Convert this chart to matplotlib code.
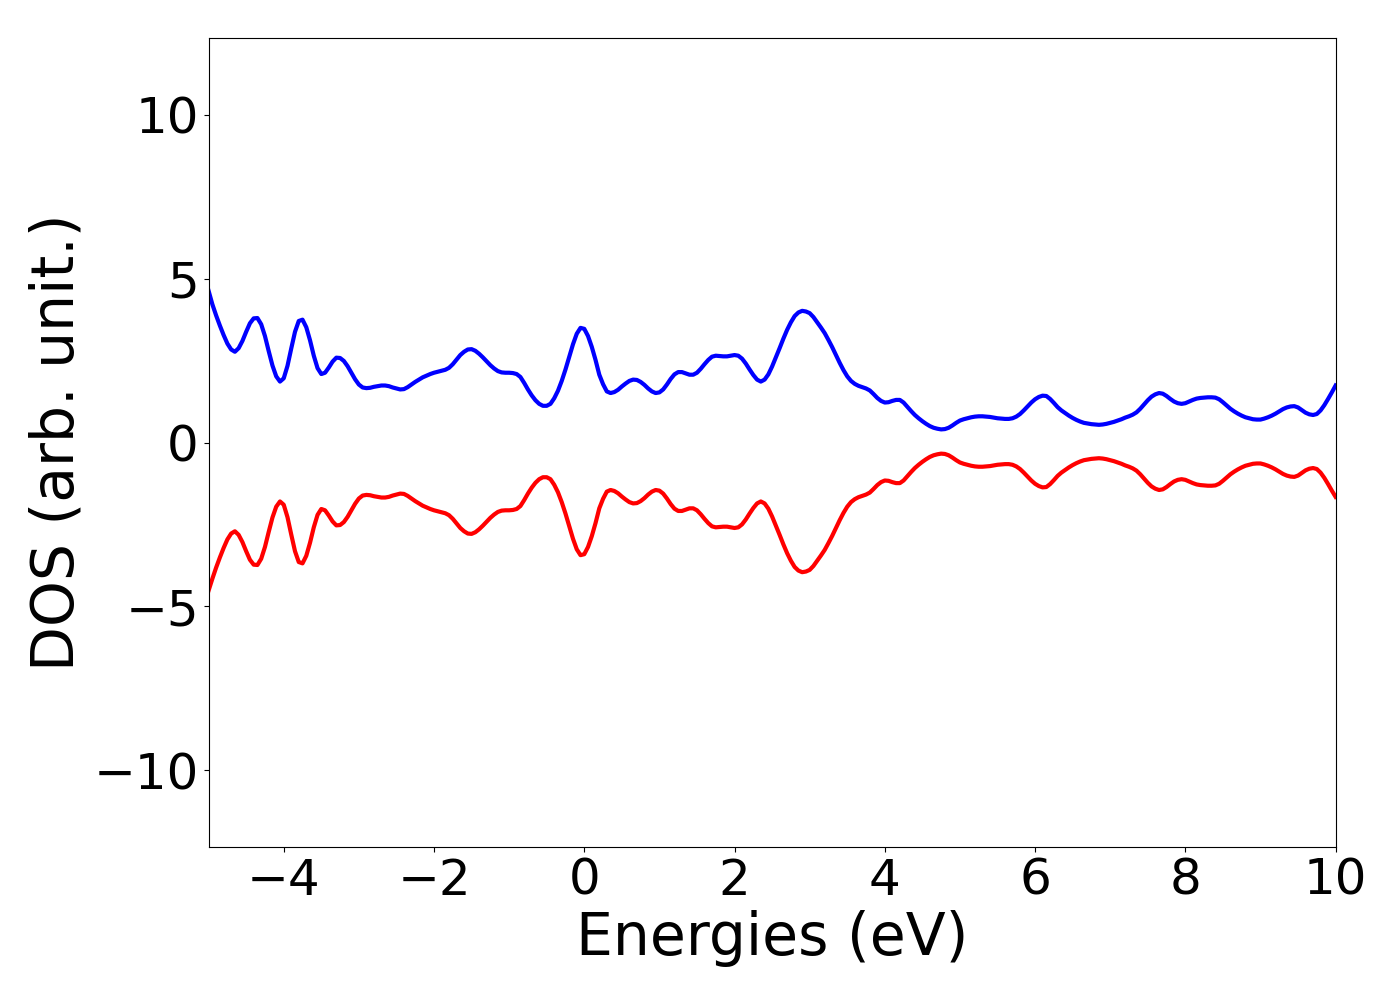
import numpy as np
import matplotlib
matplotlib.use("Agg")
import matplotlib.pyplot as plt

# energy grid, 0.05 eV steps from -5 to 10
energies = np.linspace(-5.0, 10.0, 301)

# spin up DOS
dos_up = [
    4.63, 4.22, 3.88, 3.57, 3.28, 3.02, 2.84, 2.77, 2.88, 3.10,
    3.38, 3.64, 3.79, 3.80, 3.61, 3.25, 2.79, 2.35, 2.02, 1.86,
    1.96, 2.34, 2.87, 3.38, 3.71, 3.75, 3.52, 3.12, 2.65, 2.27,
    2.09, 2.13, 2.29, 2.47, 2.59, 2.58, 2.49, 2.33, 2.13, 1.93,
    1.77, 1.68, 1.66, 1.67, 1.70, 1.72, 1.74, 1.74, 1.72, 1.68,
    1.65, 1.62, 1.63, 1.69, 1.77, 1.85, 1.92, 1.99, 2.04, 2.09,
    2.13, 2.16, 2.19, 2.22, 2.28, 2.39, 2.53, 2.67, 2.77, 2.84,
    2.85, 2.80, 2.71, 2.60, 2.48, 2.36, 2.26, 2.18, 2.14, 2.13,
    2.13, 2.12, 2.09, 2.00, 1.82, 1.62, 1.44, 1.29, 1.18, 1.12,
    1.12, 1.18, 1.35, 1.58, 1.88, 2.23, 2.62, 3.00, 3.32, 3.50,
    3.47, 3.25, 2.92, 2.52, 2.07, 1.78, 1.56, 1.51, 1.54, 1.61,
    1.71, 1.80, 1.88, 1.92, 1.91, 1.85, 1.76, 1.65, 1.56, 1.51,
    1.53, 1.62, 1.77, 1.94, 2.08, 2.15, 2.15, 2.11, 2.07, 2.07,
    2.13, 2.25, 2.39, 2.52, 2.62, 2.65, 2.64, 2.63, 2.63, 2.65,
    2.67, 2.65, 2.56, 2.41, 2.23, 2.06, 1.92, 1.86, 1.92, 2.08,
    2.32, 2.60, 2.88, 3.17, 3.44, 3.67, 3.86, 3.97, 4.02, 4.00,
    3.95, 3.83, 3.67, 3.51, 3.34, 3.13, 2.91, 2.67, 2.43, 2.21,
    2.02, 1.88, 1.79, 1.73, 1.69, 1.65, 1.59, 1.48, 1.36, 1.27,
    1.22, 1.23, 1.27, 1.30, 1.30, 1.22, 1.09, 0.96, 0.84, 0.74,
    0.65, 0.57, 0.50, 0.45, 0.42, 0.40, 0.41, 0.45, 0.52, 0.60,
    0.67, 0.71, 0.74, 0.77, 0.79, 0.80, 0.80, 0.79, 0.78, 0.76,
    0.74, 0.73, 0.72, 0.72, 0.74, 0.79, 0.87, 0.98, 1.10, 1.22,
    1.32, 1.39, 1.43, 1.42, 1.33, 1.21, 1.08, 0.98, 0.90, 0.82,
    0.75, 0.69, 0.64, 0.60, 0.58, 0.56, 0.55, 0.54, 0.55, 0.57,
    0.60, 0.63, 0.67, 0.71, 0.76, 0.80, 0.85, 0.92, 1.03, 1.16,
    1.29, 1.40, 1.47, 1.51, 1.49, 1.42, 1.33, 1.25, 1.20, 1.18,
    1.20, 1.25, 1.30, 1.34, 1.36, 1.37, 1.38, 1.38, 1.37, 1.32,
    1.23, 1.13, 1.03, 0.95, 0.88, 0.82, 0.77, 0.74, 0.71, 0.70,
    0.70, 0.73, 0.77, 0.82, 0.88, 0.95, 1.02, 1.07, 1.10, 1.11,
    1.07, 0.99, 0.91, 0.86, 0.84, 0.87, 0.98, 1.14, 1.33, 1.53,
    1.74,
]

# spin down DOS (drawn as negative values)
dos_down = [
    -4.52, -4.16, -3.82, -3.51, -3.22, -2.96, -2.78, -2.71, -2.82, -3.04,
    -3.32, -3.58, -3.73, -3.74, -3.55, -3.19, -2.73, -2.29, -1.96, -1.80,
    -1.90, -2.28, -2.81, -3.32, -3.65, -3.69, -3.46, -3.06, -2.59, -2.21,
    -2.03, -2.07, -2.23, -2.41, -2.53, -2.52, -2.43, -2.27, -2.07, -1.87,
    -1.71, -1.62, -1.60, -1.61, -1.64, -1.66, -1.68, -1.68, -1.66, -1.62,
    -1.59, -1.56, -1.57, -1.63, -1.71, -1.79, -1.86, -1.93, -1.98, -2.03,
    -2.07, -2.10, -2.13, -2.16, -2.22, -2.33, -2.47, -2.61, -2.71, -2.78,
    -2.79, -2.74, -2.65, -2.54, -2.42, -2.30, -2.20, -2.12, -2.08, -2.07,
    -2.07, -2.06, -2.03, -1.94, -1.76, -1.56, -1.38, -1.23, -1.12, -1.06,
    -1.06, -1.12, -1.29, -1.52, -1.82, -2.17, -2.56, -2.94, -3.26, -3.44,
    -3.41, -3.19, -2.86, -2.46, -2.01, -1.72, -1.50, -1.45, -1.48, -1.55,
    -1.65, -1.74, -1.82, -1.86, -1.85, -1.79, -1.70, -1.59, -1.50, -1.45,
    -1.47, -1.56, -1.71, -1.88, -2.02, -2.09, -2.09, -2.05, -2.01, -2.01,
    -2.07, -2.19, -2.33, -2.46, -2.56, -2.59, -2.58, -2.57, -2.57, -2.59,
    -2.61, -2.59, -2.50, -2.35, -2.17, -2.00, -1.86, -1.80, -1.86, -2.02,
    -2.26, -2.54, -2.82, -3.11, -3.38, -3.61, -3.80, -3.91, -3.96, -3.94,
    -3.89, -3.77, -3.61, -3.45, -3.28, -3.07, -2.85, -2.61, -2.37, -2.15,
    -1.96, -1.82, -1.73, -1.67, -1.63, -1.59, -1.53, -1.42, -1.30, -1.21,
    -1.16, -1.17, -1.21, -1.24, -1.24, -1.16, -1.03, -0.90, -0.78, -0.68,
    -0.59, -0.51, -0.44, -0.39, -0.36, -0.34, -0.35, -0.39, -0.46, -0.54,
    -0.61, -0.65, -0.68, -0.71, -0.73, -0.74, -0.74, -0.73, -0.72, -0.70,
    -0.68, -0.67, -0.66, -0.66, -0.68, -0.73, -0.81, -0.92, -1.04, -1.16,
    -1.26, -1.33, -1.37, -1.36, -1.27, -1.15, -1.02, -0.92, -0.84, -0.76,
    -0.69, -0.63, -0.58, -0.54, -0.52, -0.50, -0.49, -0.48, -0.49, -0.51,
    -0.54, -0.57, -0.61, -0.65, -0.70, -0.74, -0.79, -0.86, -0.97, -1.10,
    -1.23, -1.34, -1.41, -1.45, -1.43, -1.36, -1.27, -1.19, -1.14, -1.12,
    -1.14, -1.19, -1.24, -1.28, -1.30, -1.31, -1.32, -1.32, -1.31, -1.26,
    -1.17, -1.07, -0.97, -0.89, -0.82, -0.76, -0.71, -0.68, -0.65, -0.64,
    -0.64, -0.67, -0.71, -0.76, -0.82, -0.89, -0.96, -1.01, -1.04, -1.05,
    -1.01, -0.93, -0.85, -0.80, -0.78, -0.81, -0.92, -1.08, -1.27, -1.47,
    -1.66,
]

fig = plt.figure(figsize=(14, 10), dpi=100)
ax = fig.add_axes([0.149, 0.153, 0.805, 0.809])

ax.plot(energies, dos_up, color='blue', linewidth=3, solid_joinstyle='round')
ax.plot(energies, dos_down, color='red', linewidth=3, solid_joinstyle='round')

ax.set_xlim(-5, 10)
ax.set_ylim(-12.35, 12.35)
ax.set_xticks([-4, -2, 0, 2, 4, 6, 8, 10])
ax.set_yticks([-10, -5, 0, 5, 10])
ax.tick_params(labelsize=36)

ax.set_xlabel('Energies (eV)', fontsize=42, labelpad=4)
ax.set_ylabel('DOS (arb. unit.)', fontsize=42, labelpad=6)

fig.savefig('out.png', dpi=100)
